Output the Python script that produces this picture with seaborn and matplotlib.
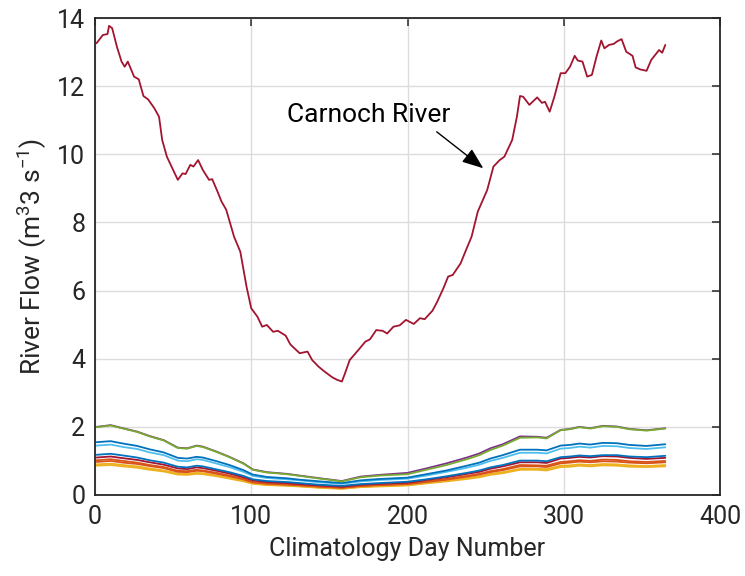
import matplotlib
matplotlib.use("Agg")
import matplotlib.pyplot as plt
import seaborn as sns
import pandas as pd

# ---------------- data ----------------
carnoch_day = [1, 5, 8, 9, 11, 14, 17, 19, 21, 25, 28, 31, 34, 38, 41, 43, 46, 50, 53, 56,
               58, 61, 63, 66, 69, 73, 75, 78, 81, 84, 89, 93, 97, 100, 104, 107, 110, 114, 117, 122,
               125, 131, 136, 139, 143, 147, 152, 155, 158, 160, 163, 169, 173, 176, 180, 184, 187, 191, 195, 199,
               204, 208, 211, 216, 219, 223, 226, 229, 234, 237, 241, 245, 251, 255, 259, 262, 267, 270, 272, 274,
               278, 283, 286, 288, 291, 294, 298, 301, 304, 307, 309, 312, 315, 318, 321, 324, 326, 329, 332, 334,
               337, 340, 344, 346, 349, 353, 356, 361, 363, 365]
carnoch_flow = [13.26, 13.50, 13.53, 13.77, 13.70, 13.16, 12.72, 12.57, 12.72, 12.28, 12.20, 11.71, 11.61, 11.35, 11.10, 10.42, 9.93, 9.54, 9.25, 9.44,
                9.42, 9.69, 9.64, 9.83, 9.54, 9.25, 9.27, 8.95, 8.61, 8.37, 7.58, 7.14, 6.11, 5.48, 5.23, 4.94, 4.99, 4.79, 4.82, 4.68,
                4.42, 4.16, 4.21, 3.96, 3.77, 3.62, 3.45, 3.38, 3.33, 3.57, 3.96, 4.28, 4.50, 4.57, 4.84, 4.82, 4.74, 4.94, 4.98, 5.14,
                5.02, 5.19, 5.16, 5.41, 5.67, 6.07, 6.41, 6.46, 6.80, 7.14, 7.58, 8.32, 8.95, 9.64, 9.83, 9.93, 10.42, 11.10, 11.71, 11.69,
                11.45, 11.67, 11.51, 11.54, 11.25, 11.69, 12.38, 12.38, 12.57, 12.89, 12.75, 12.72, 12.28, 12.33, 12.87, 13.34, 13.11, 13.21, 13.24, 13.31,
                13.38, 13.01, 12.89, 12.55, 12.49, 12.45, 12.77, 13.06, 12.98, 13.21]

small_day = [1, 10, 18, 27, 35, 44, 53, 59, 65, 69, 78, 86, 95, 101, 110, 123, 131, 144, 158, 170,
             182, 200, 212, 225, 238, 246, 253, 261, 272, 283, 289, 298, 304, 310, 317, 325, 334, 342, 353, 365]

river_purple = [2.00, 2.05, 1.96, 1.86, 1.73, 1.61, 1.39, 1.37, 1.45, 1.42, 1.27, 1.12, 0.93, 0.75, 0.67, 0.62, 0.57, 0.49, 0.41, 0.54,
                0.59, 0.65, 0.78, 0.93, 1.10, 1.22, 1.37, 1.49, 1.72, 1.71, 1.68, 1.91, 1.94, 2.00, 1.96, 2.03, 2.01, 1.94, 1.90, 1.96]
river_green = [1.99, 2.04, 1.95, 1.85, 1.72, 1.60, 1.38, 1.36, 1.44, 1.41, 1.26, 1.11, 0.92, 0.74, 0.66, 0.61, 0.56, 0.48, 0.40, 0.52,
               0.57, 0.61, 0.74, 0.88, 1.05, 1.17, 1.32, 1.45, 1.68, 1.69, 1.66, 1.90, 1.93, 1.99, 1.95, 2.02, 2.00, 1.93, 1.89, 1.95]
river_blue1 = [1.55, 1.58, 1.51, 1.44, 1.34, 1.25, 1.09, 1.07, 1.12, 1.10, 0.99, 0.88, 0.73, 0.60, 0.53, 0.49, 0.45, 0.40, 0.35, 0.43,
               0.47, 0.51, 0.61, 0.72, 0.86, 0.95, 1.07, 1.17, 1.33, 1.33, 1.31, 1.45, 1.47, 1.51, 1.48, 1.53, 1.52, 1.47, 1.44, 1.49]
river_lightblue = [1.45, 1.48, 1.41, 1.35, 1.25, 1.17, 1.01, 0.99, 1.05, 1.03, 0.92, 0.82, 0.68, 0.56, 0.50, 0.46, 0.43, 0.37, 0.33, 0.40,
                   0.44, 0.48, 0.57, 0.68, 0.80, 0.89, 1.00, 1.09, 1.24, 1.24, 1.22, 1.36, 1.38, 1.42, 1.39, 1.44, 1.43, 1.38, 1.35, 1.40]
river_blue2 = [1.18, 1.21, 1.16, 1.10, 1.02, 0.95, 0.83, 0.81, 0.86, 0.84, 0.75, 0.67, 0.56, 0.46, 0.41, 0.38, 0.35, 0.30, 0.27, 0.32,
               0.35, 0.39, 0.46, 0.55, 0.65, 0.72, 0.81, 0.88, 1.01, 1.01, 0.99, 1.11, 1.13, 1.16, 1.14, 1.17, 1.17, 1.13, 1.11, 1.15]
river_maroon = [1.10, 1.13, 1.08, 1.03, 0.96, 0.89, 0.78, 0.76, 0.81, 0.79, 0.71, 0.63, 0.52, 0.43, 0.38, 0.35, 0.32, 0.28, 0.24, 0.30,
                0.33, 0.36, 0.44, 0.52, 0.62, 0.68, 0.77, 0.84, 0.96, 0.96, 0.94, 1.07, 1.09, 1.12, 1.10, 1.14, 1.13, 1.09, 1.06, 1.09]
river_orange1 = [1.02, 1.05, 1.00, 0.95, 0.88, 0.82, 0.71, 0.70, 0.74, 0.72, 0.65, 0.57, 0.47, 0.38, 0.34, 0.32, 0.29, 0.25, 0.22, 0.27,
                 0.30, 0.33, 0.40, 0.47, 0.56, 0.62, 0.70, 0.76, 0.88, 0.87, 0.86, 0.97, 0.99, 1.02, 1.00, 1.04, 1.03, 0.99, 0.97, 1.00]
river_orange2 = [0.97, 1.00, 0.95, 0.91, 0.85, 0.79, 0.68, 0.67, 0.71, 0.70, 0.62, 0.55, 0.46, 0.37, 0.33, 0.30, 0.28, 0.24, 0.21, 0.26,
                 0.29, 0.32, 0.38, 0.45, 0.54, 0.60, 0.67, 0.73, 0.84, 0.84, 0.82, 0.93, 0.95, 0.98, 0.96, 0.99, 0.98, 0.95, 0.93, 0.96]
river_yellow1 = [0.90, 0.92, 0.88, 0.84, 0.78, 0.72, 0.63, 0.62, 0.65, 0.64, 0.57, 0.50, 0.42, 0.34, 0.30, 0.28, 0.26, 0.22, 0.19, 0.24,
                 0.27, 0.29, 0.35, 0.42, 0.50, 0.55, 0.62, 0.67, 0.77, 0.77, 0.76, 0.86, 0.87, 0.90, 0.88, 0.91, 0.90, 0.87, 0.85, 0.88]
river_yellow2 = [0.86, 0.88, 0.84, 0.80, 0.74, 0.69, 0.60, 0.59, 0.62, 0.61, 0.55, 0.48, 0.40, 0.33, 0.29, 0.27, 0.25, 0.21, 0.18, 0.23,
                 0.25, 0.28, 0.34, 0.40, 0.47, 0.52, 0.59, 0.64, 0.74, 0.74, 0.72, 0.82, 0.83, 0.86, 0.84, 0.87, 0.86, 0.83, 0.82, 0.84]

x_ticks = [0, 100, 200, 300, 400]
y_ticks = [0, 2, 4, 6, 8, 10, 12, 14]
annot_text = "Carnoch River"

# ---------------- build long table ----------------
small = [
    ("yellow2", river_yellow2, "#EDB120"),
    ("yellow1", river_yellow1, "#EDB120"),
    ("orange2", river_orange2, "#D95319"),
    ("orange1", river_orange1, "#D95319"),
    ("maroon", river_maroon, "#A2142F"),
    ("blue2", river_blue2, "#0072BD"),
    ("lightblue", river_lightblue, "#4DBEEE"),
    ("blue1", river_blue1, "#0072BD"),
    ("purple", river_purple, "#7E2F8E"),
    ("green", river_green, "#77AC30"),
]
frames = []
palette = {}
for name, vals, col in small:
    frames.append(pd.DataFrame({"day": small_day, "flow": vals, "river": name}))
    palette[name] = col
frames.append(pd.DataFrame({"day": carnoch_day, "flow": carnoch_flow, "river": "Carnoch"}))
palette["Carnoch"] = "#A2142F"
df = pd.concat(frames, ignore_index=True)

# ---------------- plot ----------------
sns.set_theme(style="white")
plt.rcParams["font.family"] = ["Roboto", "DejaVu Sans"]
plt.rcParams["mathtext.fontset"] = "custom"
plt.rcParams["mathtext.rm"] = "Roboto"
plt.rcParams["mathtext.default"] = "regular"

fig = plt.figure(figsize=(7.45, 5.76), dpi=100)
ax = fig.add_axes([95 / 745, 81 / 576, 625 / 745, 477 / 576])

sns.lineplot(data=df, x="day", y="flow", hue="river", palette=palette,
             hue_order=list(palette.keys()), legend=False, sort=False,
             estimator=None, linewidth=1.3, ax=ax)

ax.set_xlim(0, 400)
ax.set_ylim(0, 14)
ax.set_xticks(x_ticks)
ax.set_yticks(y_ticks)
ax.grid(True, color="#dcdcdc", linewidth=1.0)
ax.set_axisbelow(True)

dark = "#262626"
for s in ax.spines.values():
    s.set_visible(True)
    s.set_color(dark)
    s.set_linewidth(1.3)
ax.tick_params(axis="both", which="both", direction="in", length=6, width=1.1,
               colors=dark, labelsize=18, top=True, right=True, pad=7)

ax.set_xlabel("Climatology Day Number", fontsize=18, color=dark, labelpad=6)
ax.set_ylabel("River Flow (m$^3$3 s$^{-1}$)", fontsize=19, color=dark, labelpad=6)

ax.text(123, 11.15, annot_text, fontsize=19, color="black", ha="left", va="center")
ax.annotate("", xy=(248.5, 9.59), xytext=(218.7, 10.66),
            arrowprops=dict(arrowstyle="-|>,head_length=0.65,head_width=0.25",
                            color="black", lw=1.0, mutation_scale=20,
                            shrinkA=0, shrinkB=0))

fig.savefig("out.png", dpi=100)
